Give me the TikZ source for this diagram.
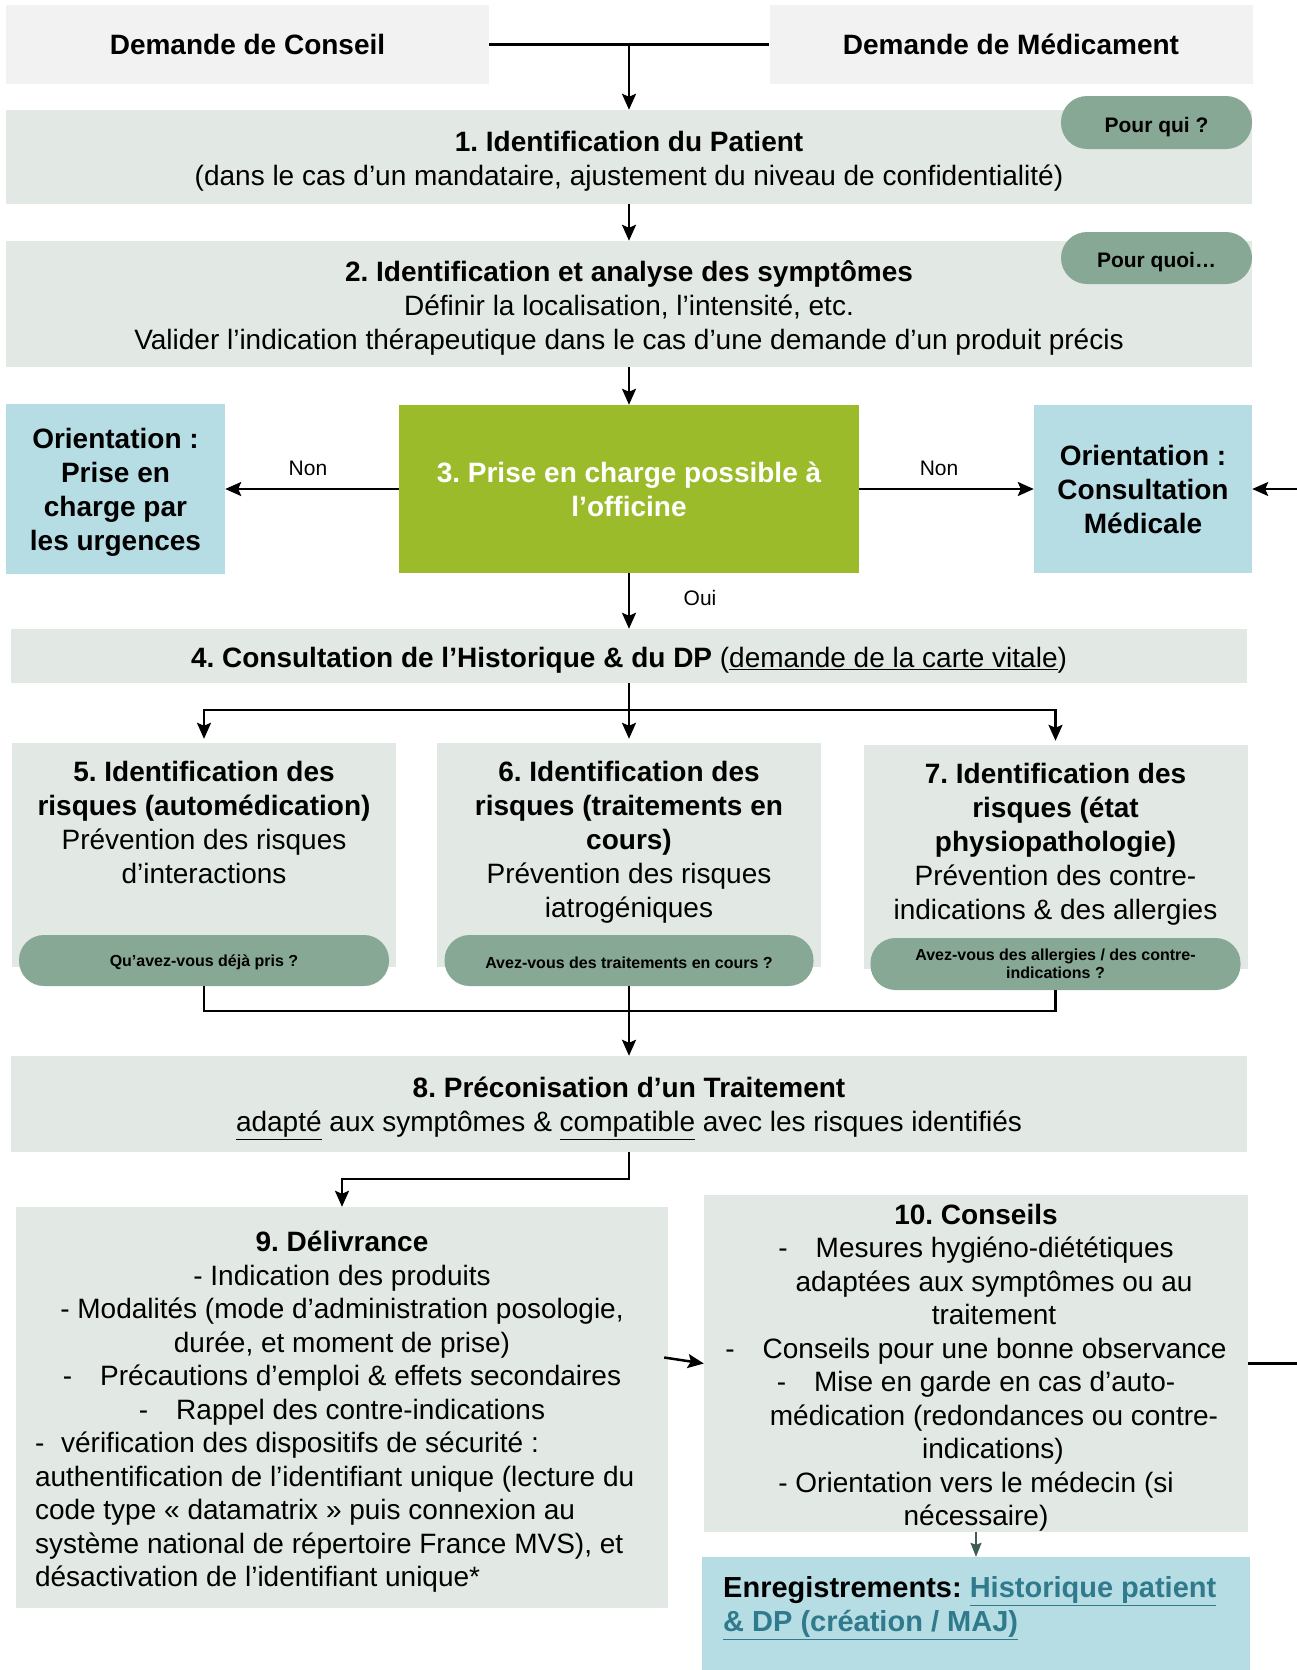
\documentclass[tikz,border=0pt]{standalone}
\usepackage{fontspec}
\setmainfont{Liberation Sans}
\usetikzlibrary{arrows.meta}
\frenchspacing
\definecolor{fond}{HTML}{F2F2F2}
\definecolor{gris_etape}{HTML}{E2E8E4}
\definecolor{vert_pill}{HTML}{87A895}
\definecolor{vert_pomme}{HTML}{9CBB2A}
\definecolor{bleu_clair}{HTML}{B7DDE4}
\definecolor{lien}{HTML}{2F7A8C}
\definecolor{vert_fonce}{HTML}{3D5F4F}

\begin{document}
\begin{tikzpicture}[x=1pt,y=-1pt]
	\tikzstyle{demande} = [rectangle, fill=fond, minimum width=483pt, minimum height=79pt, font=\fontsize{28}{34}\selectfont\bfseries]
	\tikzstyle{etape} = [rectangle, fill=gris_etape, inner sep=0pt, align=flush center, font=\fontsize{28}{34}\selectfont, execute at begin node={\rule{0pt}{29pt}}]
	\tikzstyle{texte} = [inner sep=0pt, align=center, font=\fontsize{28}{34}\selectfont]
	\tikzstyle{vert} = [rectangle, fill=vert_pomme, text=white, inner sep=0pt, align=center, font=\fontsize{28}{34}\selectfont\bfseries]
	\tikzstyle{orient} = [rectangle, fill=bleu_clair, inner sep=0pt, align=flush center, font=\fontsize{28}{34}\selectfont\bfseries]
	\tikzstyle{pill} = [rectangle, rounded corners=25pt, fill=vert_pill, inner sep=0pt, align=center, font=\fontsize{16}{18.5}\selectfont\bfseries, execute at begin node={\rule{0pt}{15.5pt}}]
	\tikzstyle{pill_haut} = [pill, rounded corners=26pt, font=\fontsize{21}{25}\selectfont\bfseries, execute at begin node={\rule{0pt}{24pt}}]
	\tikzstyle{oui_non} = [font=\fontsize{21}{25}\selectfont]
	\tikzstyle{edge} = [line width=2.5pt, -{Stealth[length=16pt,width=14pt,inset=3pt]}]
	\tikzstyle{trait} = [line width=2.5pt]
	\def\cx{629}

	\useasboundingbox (0,0) rectangle (1297,1670);

	% demandes
	\foreach \name/\x/\texte in {dconseil/247.5/Demande de Conseil, dmedic/1011/Demande de Médicament}
		\node[demande] (\name) at (\x,44.5) {\texte};
	\coordinate (jonction) at (\cx,44.5);

	% etapes 1 et 2
	\node[etape, minimum width=1246pt, minimum height=94pt, text width=1200pt] (p1) at (\cx,157)
		{\textbf{1. Identification du Patient}\\(dans le cas d’un mandataire, ajustement du niveau de confidentialité)};
	\node[etape, minimum width=1246pt, minimum height=126pt, text width=1200pt] (p2) at (\cx,304)
		{\textbf{2. Identification et analyse des symptômes}\\Définir la localisation, l’intensité, etc.\\Valider l’indication thérapeutique dans le cas d’une demande d’un produit précis};
	\node[pill_haut, minimum width=191pt, minimum height=53pt] (pourqui) at (1156.5,122.5) {Pour qui ?};
	\node[pill_haut, minimum width=191pt, minimum height=52pt] (pourquoi) at (1156.5,258) {Pour quoi…};

	% etape 3 et orientations
	\node[vert, minimum width=460pt, minimum height=168pt] (p3) at (\cx,489)
		{3. Prise en charge possible à\\l’officine};
	\node[orient, minimum width=219pt, minimum height=170pt, text width=212pt, execute at begin node={\rule{0pt}{26pt}}] (urg) at (115.5,489) {Orientation :\\Prise en\\charge par\\les urgences};
	\node[orient, minimum width=218pt, minimum height=168pt] (consult) at (1143,489) {Orientation :\\Consultation\\Médicale};
	\node[oui_non] (non1) at (308,468) {Non};
	\node[oui_non] (non2) at (939,468) {Non};
	\node[oui_non] (oui) at (700,598) {Oui};
	\coordinate (bordC) at (1297,489);

	% etape 4
	\node[etape, minimum width=1236pt, minimum height=54pt] (p4) at (\cx,656)
		{\textbf{4. Consultation de l’Historique \& du DP} (\underline{demande de la carte vitale})};
	\coordinate (b4) at (\cx,710);

	% risques 5, 6, 7
	\foreach \name/\x/\y in {r5/204/855, r6/629/855, r7/1055.5/857}
		\node[etape, minimum width=384pt, minimum height=224pt] (\name) at (\x,\y) {};
	\node[texte] (t5) at (204,822.5) {\textbf{5. Identification des}\\\textbf{risques (automédication)}\\Prévention des risques\\d’interactions};
	\node[texte] (t6) at (629,842) {\textbf{6. Identification des}\\\textbf{risques (traitements en}\\\textbf{cours)}\\Prévention des risques\\iatrogéniques};
	\node[texte] (t7) at (1055.5,844) {\textbf{7. Identification des}\\\textbf{risques (état}\\\textbf{physiopathologie)}\\Prévention des contre-\\indications \& des allergies};
	\node[pill, minimum width=370pt, minimum height=51pt] (q5) at (204,960.5) {Qu’avez-vous déjà pris ?};
	\node[pill, minimum width=369pt, minimum height=51pt] (q6) at (629,960.5) {Avez-vous des traitements en cours ?};
	\node[pill, minimum width=370pt, minimum height=52pt] (q7) at (1055.5,964) {Avez-vous des allergies / des contre-\\indications ?};
	\coordinate (m8) at (\cx,1011);

	% etape 8
	\node[etape, minimum width=1236pt, minimum height=96pt, text width=1200pt] (p8) at (\cx,1104)
		{\textbf{8. Préconisation d’un Traitement}\\\underline{adapté} aux symptômes \& \underline{compatible} avec les risques identifiés};
	\coordinate (c9) at (\cx,1179);

	% etapes 9 et 10
	\node[etape, minimum width=652pt, minimum height=401pt, text width=614pt, font=\fontsize{28}{33.5}\selectfont] (p9) at (342,1407.5)
		{\textbf{9. Délivrance}\\- Indication des produits\\- Modalités (mode d’administration posologie,\\durée, et moment de prise)\\-\quad Précautions d’emploi \& effets secondaires\\-\quad Rappel des contre-indications\par
		\raggedright\parfillskip=0pt plus 1fil -\hspace{0.6em}vérification des dispositifs de sécurité :\\authentification de l’identifiant unique (lecture du\\code type « datamatrix » puis connexion au\\système national de répertoire France MVS), et\\désactivation de l’identifiant unique*\par};
	\node[etape, minimum width=544pt, minimum height=325pt, text width=530pt, font=\fontsize{28}{33.5}\selectfont] (p10) at (976,1363.5)
		{\textbf{10. Conseils}\\-\quad Mesures hygiéno-diététiques\\\hspace*{36pt}adaptées aux symptômes ou au\\\hspace*{36pt}traitement\\-\quad Conseils pour une bonne observance\\-\quad Mise en garde en cas d’auto-\\\hspace*{36pt}médication (redondances ou contre-\\\hspace*{34pt}indications)\\- Orientation vers le médecin (si\\nécessaire)};
	\coordinate (bordD) at (1297,1363.5);

	% enregistrements
	\node[rectangle, fill=bleu_clair, minimum width=548pt, minimum height=123pt] (enreg) at (976,1618.5) {};
	\node[texte, anchor=west, align=left, font=\fontsize{29}{34}\selectfont\bfseries] (tenreg) at (723,1608)
		{Enregistrements: {\color{lien}\underline{Historique patient}}\\{\color{lien}\underline{\& DP (création / MAJ)}}};

	% liaisons
	\draw[trait, line width=3pt] (dconseil) -- (dmedic);
	\draw[edge] (jonction) -- (p1.north);
	\draw[edge] (p1.south) -- (p2.north);
	\draw[edge] (p2.south) -- (p3.north);
	\draw[edge] (p3.west) -- (urg.east);
	\draw[edge] (p3.east) -- (consult.west);
	\draw[edge, line width=2pt] (bordC) -- (consult.east);
	\draw[edge] (p3.south) -- (p4.north);
	\draw[trait] (p4.south) -- (b4);
	\foreach \to in {r5, r7}
		\draw[edge, shorten >=4pt] (b4) -| (\to.north);
	\draw[edge, shorten >=4pt] (b4) -- (r6.north);
	\draw[trait] (q5.south) |- (m8) -| (q7.south);
	\draw[edge] (q6.south) -- (p8.north);
	\draw[edge] (p8.south) -- (c9) -| (p9.north);
	\draw[edge] ([shift={(-4,-50)}]p9.east) -- (p10.west);
	\draw[trait] (p10.east) -- (bordD);
	\draw[edge, line width=1.5pt, color=vert_fonce, -{Stealth[length=14pt,width=11pt,inset=2pt]}] (p10.south) -- (enreg.north);
\end{tikzpicture}
\end{document}
